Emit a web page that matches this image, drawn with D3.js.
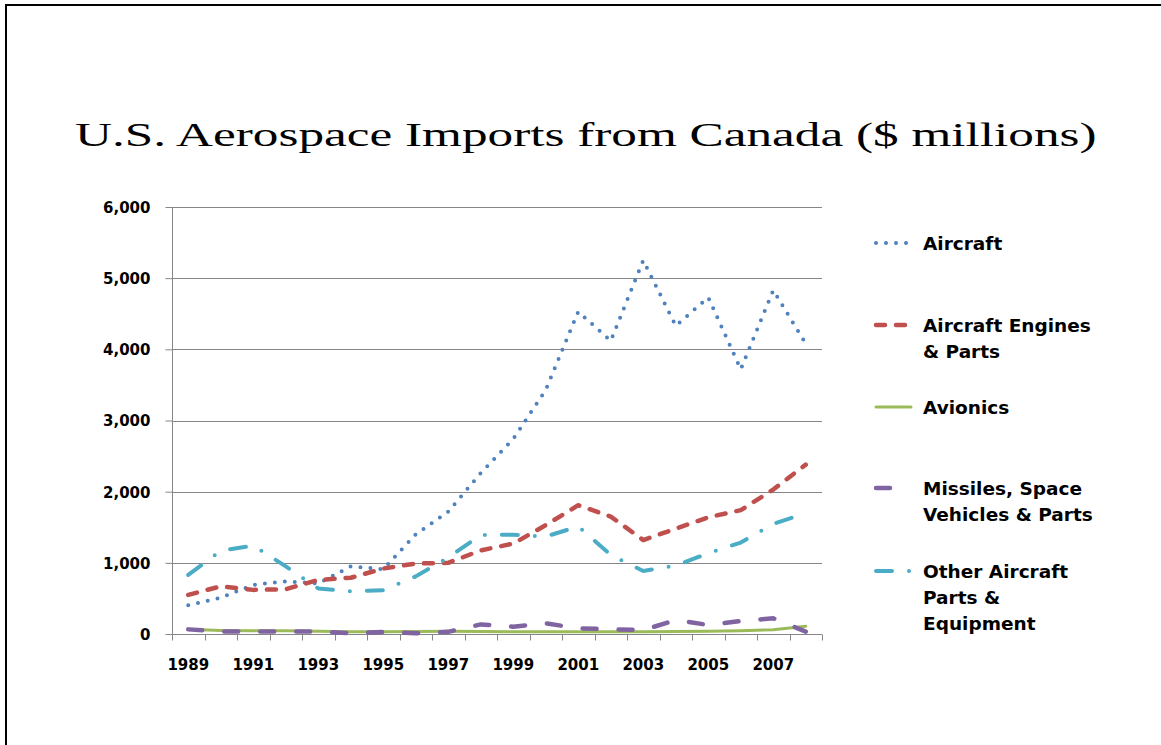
<!DOCTYPE html>
<html>
<head>
<meta charset="utf-8">
<script src="https://cdn.jsdelivr.net/npm/d3@7/dist/d3.min.js"></script>
<style>
  html, body { margin: 0; padding: 0; background: #fff; }
  svg { display: block; }
</style>
</head>
<body>
<svg id="chart" width="1161" height="745"></svg>
<script>
const years = [1989,1990,1991,1992,1993,1994,1995,1996,1997,1998,1999,2000,2001,2002,2003,2004,2005,2006,2007,2008];
const yTicks = [0,1000,2000,3000,4000,5000,6000];
const xTickLabels = [1989,1991,1993,1995,1997,1999,2001,2003,2005,2007];

const aircraft = [405,510,690,740,710,950,910,1400,1720,2260,2740,3430,4530,4120,5250,4330,4730,3720,4830,4080];
const engines  = [550,670,620,630,760,790,920,990,1000,1175,1270,1530,1810,1650,1320,1480,1640,1740,2030,2380];
const avionics = [65,50,45,45,40,30,30,35,40,35,30,30,30,30,30,35,40,45,60,110];
const missiles = [65,35,35,37,33,10,28,10,30,135,103,150,80,66,56,195,127,183,220,33];
const other    = [830,1170,1242,950,640,600,615,810,1075,1392,1395,1370,1510,1110,886,960,1135,1285,1547,1697];

const seriesNames = ["Aircraft", "Aircraft Engines & Parts", "Avionics", "Missiles, Space Vehicles & Parts", "Other Aircraft Parts & Equipment"];
const legendLines = [["Aircraft"], ["Aircraft Engines", "& Parts"], ["Avionics"], ["Missiles, Space", "Vehicles & Parts"], ["Other Aircraft", "Parts &", "Equipment"]];
const seriesValues = [aircraft, engines, avionics, missiles, other];
const colors = ["#4F81BD", "#C0504D", "#9BBB59", "#8064A2", "#4BACC6"];
const dashes = ["0 10", "9 11", null, "14 22", "16 17 0 17"];
const widths = [4, 4.5, 3, 4.5, 4];

const svg = d3.select("#chart");

// frame
svg.append("line").attr("x1", 6).attr("x2", 1161).attr("y1", 5).attr("y2", 5)
  .attr("stroke", "#000").attr("stroke-width", 2);
svg.append("line").attr("x1", 6).attr("x2", 6).attr("y1", 4).attr("y2", 745)
  .attr("stroke", "#000").attr("stroke-width", 2);

// title
const title = svg.append("text")
  .attr("x", 0).attr("y", 0)
  .attr("font-family", "'Liberation Serif', 'Times New Roman', serif")
  .attr("font-size", 34)
  .attr("fill", "#000")
  .text("U.S. Aerospace Imports from Canada ($ millions)");
const tw = title.node().getComputedTextLength();
title.attr("transform", `translate(75,146) scale(${1022 / tw},1)`);

const pLeft = 172, pRight = 822, pTop = 207, pBottom = 634;

const x = d3.scaleBand().domain(years).range([pLeft, pRight]).padding(0);
const y = d3.scaleLinear().domain([0, 6000]).range([pBottom, pTop]);

// gridlines
svg.append("g").selectAll("line").data(yTicks.filter(d => d > 0)).join("line")
  .attr("x1", pLeft).attr("x2", pRight)
  .attr("y1", d => Math.round(y(d)) + 0.5).attr("y2", d => Math.round(y(d)) + 0.5)
  .attr("stroke", "#868686").attr("stroke-width", 1);

// y axis
const yAxis = svg.append("g").attr("transform", `translate(${pLeft + 0.5},0)`)
  .call(d3.axisLeft(y).tickValues(yTicks).tickSize(7).tickFormat(d3.format(",")));
yAxis.select(".domain").attr("stroke", "#868686").attr("d", `M0,${y(6000)}V${y(0)}`);
yAxis.selectAll(".tick line").attr("stroke", "#868686");
yAxis.selectAll(".tick text")
  .attr("font-family", "'DejaVu Sans', sans-serif").attr("font-weight", "bold")
  .attr("font-size", 15).attr("fill", "#000").attr("x", -22).attr("dy", "0.36em");

// x axis
const xg = svg.append("g").attr("transform", `translate(0,${pBottom + 0.5})`);
xg.append("line").attr("x1", pLeft).attr("x2", pRight).attr("y1", 0).attr("y2", 0)
  .attr("stroke", "#868686");
const boundaries = years.map(d => x(d)).concat([x(years[years.length - 1]) + x.bandwidth()]);
xg.selectAll("line.tk").data(boundaries).join("line").attr("class", "tk")
  .attr("x1", d => Math.round(d) + 0.5).attr("x2", d => Math.round(d) + 0.5)
  .attr("y1", 0).attr("y2", 6).attr("stroke", "#868686");
xg.selectAll("text").data(xTickLabels).join("text")
  .attr("x", d => x(d) + x.bandwidth() / 2).attr("y", 35)
  .attr("text-anchor", "middle")
  .attr("font-family", "'DejaVu Sans', sans-serif").attr("font-weight", "bold")
  .attr("font-size", 15).attr("fill", "#000")
  .text(d => d);

// lines
const line = d3.line().x((d, i) => x(years[i]) + x.bandwidth() / 2).y(d => y(d));
seriesValues.forEach((vals, i) => {
  svg.append("path").datum(vals)
    .attr("d", line)
    .attr("fill", "none")
    .attr("stroke", colors[i])
    .attr("stroke-width", widths[i])
    .attr("stroke-linecap", "round")
    .attr("stroke-linejoin", "round")
    .attr("stroke-dasharray", dashes[i]);
});

// legend
const legendY = [243, 325, 407, 488, 571];
const lg = svg.append("g");
seriesNames.forEach((name, i) => {
  const g = lg.append("g").attr("transform", `translate(0,${legendY[i]})`);
  g.append("line").attr("x1", 876).attr("x2", 911).attr("y1", 0).attr("y2", 0)
    .attr("stroke", colors[i]).attr("stroke-width", widths[i])
    .attr("stroke-linecap", "round")
    .attr("stroke-dasharray", dashes[i]);
  const t = g.append("text").attr("x", 923).attr("y", 7)
    .attr("font-family", "'DejaVu Sans', sans-serif").attr("font-weight", "bold")
    .attr("font-size", 18.5).attr("fill", "#000");
  legendLines[i].forEach((ln, j) => {
    t.append("tspan").attr("x", 923).attr("dy", j === 0 ? 0 : 26).text(ln);
  });
});
</script>
</body>
</html>
